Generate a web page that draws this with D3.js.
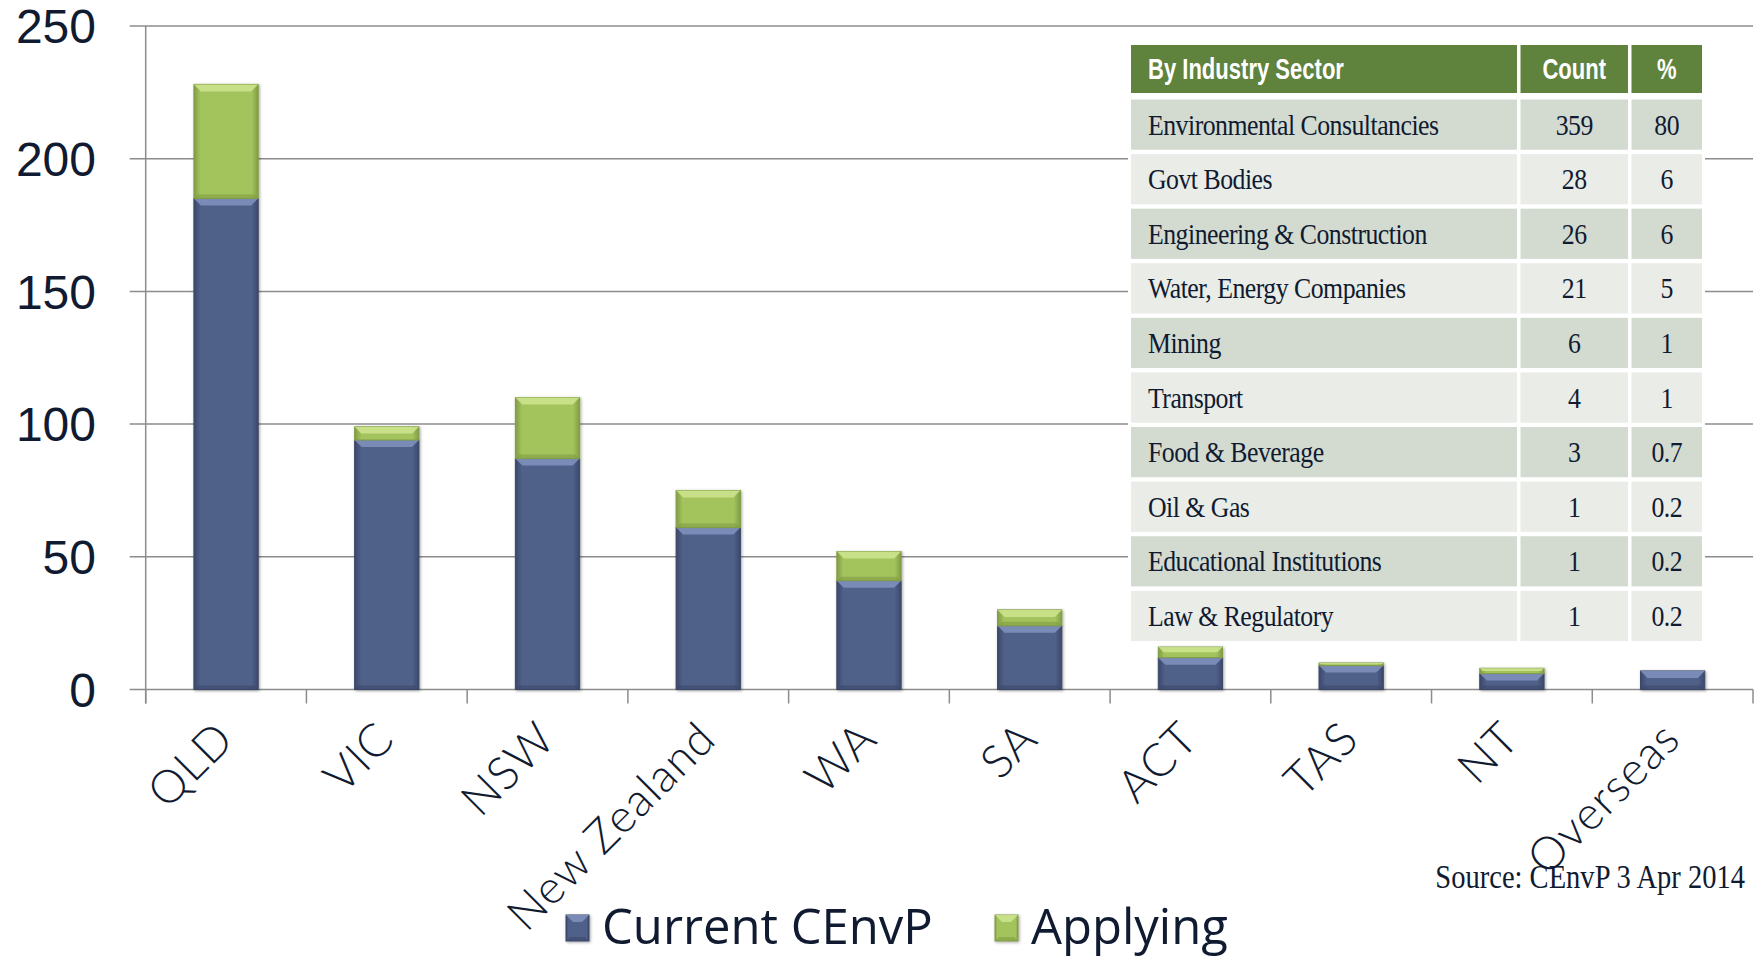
<!DOCTYPE html>
<html>
<head>
<meta charset="utf-8">
<script src="https://cdn.jsdelivr.net/npm/d3@7"></script>
<style>
  body { margin: 0; background: #fff; }
  svg { display: block; }
</style>
</head>
<body>
<svg width="1757" height="957"></svg>
<script>
// chart data
const regions = ["QLD", "VIC", "NSW", "New Zealand", "WA", "SA", "ACT", "TAS", "NT", "Overseas"];
const current = [185, 94, 87, 61, 41, 24, 12, 9, 6, 7];
const applying = [43, 5, 23, 14, 11, 6, 4, 1, 2, 0];
const yTicks = [0, 50, 100, 150, 200, 250];
const seriesNames = ["Current CEnvP", "Applying"];

// table data
const tableHead = ["By Industry Sector", "Count", "%"];
const sectors = ["Environmental Consultancies", "Govt Bodies", "Engineering & Construction",
  "Water, Energy Companies", "Mining", "Transport", "Food & Beverage", "Oil & Gas",
  "Educational Institutions", "Law & Regulatory"];
const counts = [359, 28, 26, 21, 6, 4, 3, 1, 1, 1];
const percents = ["80", "6", "6", "5", "1", "1", "0.7", "0.2", "0.2", "0.2"];

const source = "Source: CEnvP 3 Apr 2014";

const svg = d3.select("svg");
const plotL = 145.7, plotR = 1753, plotT = 26, plotB = 689.5;
const ink = "#101a30";
const gridCol = "#8c8c8c";

const x = d3.scaleBand().domain(regions).range([plotL, plotR]).paddingInner(0.6).paddingOuter(0.3);
const y = d3.scaleLinear().domain([0, 250]).range([plotB, plotT]);

const series = [
  { name: seriesNames[0], base: "#4f6089", dark: "#3b4868", light: "#8193c0", values: current },
  { name: seriesNames[1], base: "#a3c35d", dark: "#819c44", light: "#cfe58f", values: applying }
];

const defs = svg.append("defs");
series.forEach((s, i) => {
  const g = defs.append("linearGradient").attr("id", "grad" + i)
    .attr("x1", 0).attr("x2", 1).attr("y1", 0).attr("y2", 0);
  g.append("stop").attr("offset", "0%").attr("stop-color", s.dark);
  g.append("stop").attr("offset", "10%").attr("stop-color", s.base);
  g.append("stop").attr("offset", "90%").attr("stop-color", s.base);
  g.append("stop").attr("offset", "100%").attr("stop-color", s.dark);
});
defs.append("filter").attr("id", "shadow").attr("x", "-20%").attr("y", "-20%").attr("width", "140%").attr("height", "140%")
  .append("feDropShadow").attr("dx", 1).attr("dy", 1).attr("stdDeviation", 1.5)
  .attr("flood-color", "#000").attr("flood-opacity", 0.35);

// gridlines
svg.append("g").selectAll("line").data(yTicks).join("line")
  .attr("x1", plotL - 16).attr("x2", plotR)
  .attr("y1", d => y(d)).attr("y2", d => y(d))
  .attr("stroke", gridCol).attr("stroke-width", 1.5);

// y axis line
svg.append("line").attr("x1", plotL).attr("x2", plotL).attr("y1", plotT).attr("y2", plotB + 14)
  .attr("stroke", gridCol).attr("stroke-width", 1.5);

// x ticks at band boundaries
svg.append("g").selectAll("line").data(d3.range(regions.length + 1)).join("line")
  .attr("x1", i => plotL + i * x.step()).attr("x2", i => plotL + i * x.step())
  .attr("y1", plotB).attr("y2", plotB + 14)
  .attr("stroke", gridCol).attr("stroke-width", 1.5);

// y labels
svg.append("g").selectAll("text").data(yTicks).join("text")
  .attr("x", 96).attr("y", d => y(d)).attr("dy", "0.36em")
  .attr("text-anchor", "end")
  .style("font-family", "'Liberation Sans', Arial, sans-serif").style("font-size", "48px")
  .attr("fill", ink).text(d => d);

// bars
function bevelBar(g, x0, y0, w, h, s, idx) {
  if (h <= 0) return;
  g.append("rect").attr("x", x0).attr("y", y0).attr("width", w).attr("height", h)
    .attr("fill", `url(#grad${idx})`).attr("stroke", s.dark).attr("stroke-width", 1);
  const d = Math.min(7, h / 2);
  g.append("polygon")
    .attr("points", [[x0, y0], [x0 + w, y0], [x0 + w - d, y0 + d], [x0 + d, y0 + d]].map(p => p.join(",")).join(" "))
    .attr("fill", s.light).attr("opacity", 0.85);
  if (h > 14) {
    g.append("polygon")
      .attr("points", [[x0, y0 + h], [x0 + w, y0 + h], [x0 + w - 4, y0 + h - 4], [x0 + 4, y0 + h - 4]].map(p => p.join(",")).join(" "))
      .attr("fill", s.dark).attr("opacity", 0.6);
  }
}

const barG = svg.append("g");
regions.forEach((r, i) => {
  const bg = barG.append("g").attr("filter", "url(#shadow)");
  let acc = 0;
  series.forEach((s, k) => {
    const v = s.values[i];
    const y1 = y(acc + v), y0 = y(acc);
    bevelBar(bg, x(r), y1, x.bandwidth(), y0 - y1, s, k);
    acc += v;
  });
});

// x labels
svg.append("g").selectAll("text").data(regions).join("text")
  .attr("transform", d => `translate(${x(d) + x.bandwidth() / 2 + 10},${plotB + 52}) rotate(-45)`)
  .attr("text-anchor", "end")
  .style("font-family", "Lato, 'Open Sans', sans-serif").style("font-size", "46px")
  .style("font-weight", "300").style("letter-spacing", "1px")
  .attr("fill", ink).text(d => d);

// table
const colL = [1131, 1520.5, 1631.5];
const colR = [1517, 1628, 1702];
const headTop = 45, headBot = 93;
const rowY = d3.scaleBand().domain(d3.range(sectors.length)).range([99.5, 641]).paddingInner(0.08);

const tg = svg.append("g");
tg.append("rect").attr("x", colL[0] - 3).attr("y", headTop - 3)
  .attr("width", colR[2] - colL[0] + 6).attr("height", 641 - headTop + 6).attr("fill", "#fff");

tableHead.forEach((h, c) => {
  tg.append("rect").attr("x", colL[c]).attr("y", headTop)
    .attr("width", colR[c] - colL[c]).attr("height", headBot - headTop).attr("fill", "#5f823d");
  const cx = c === 0 ? colL[0] + 17 : (colL[c] + colR[c]) / 2;
  tg.append("text")
    .attr("transform", `translate(${cx},${(headTop + headBot) / 2 + 10}) scale(0.76,1)`)
    .attr("text-anchor", c === 0 ? "start" : "middle")
    .style("font-family", "'Liberation Sans', Arial, sans-serif").style("font-size", "29px")
    .style("font-weight", "bold").attr("fill", "#fff").text(h);
});

sectors.forEach((s, r) => {
  const fill = r % 2 === 0 ? "#d3dbd1" : "#e9ece7";
  const cells = [s, counts[r], percents[r]];
  cells.forEach((v, c) => {
    tg.append("rect").attr("x", colL[c]).attr("y", rowY(r))
      .attr("width", colR[c] - colL[c]).attr("height", rowY.bandwidth()).attr("fill", fill);
    const cx = c === 0 ? colL[0] + 17 : (colL[c] + colR[c]) / 2;
    tg.append("text")
      .attr("transform", `translate(${cx},${rowY(r) + rowY.bandwidth() / 2 + 10}) scale(0.86,1)`)
      .attr("text-anchor", c === 0 ? "start" : "middle")
      .style("font-family", "'Liberation Serif', 'Times New Roman', serif").style("font-size", "30px")
      .style("letter-spacing", "-0.6px")
      .attr("fill", ink).text(v);
  });
});

// source
svg.append("text").attr("transform", "translate(1745,888) scale(0.84,1)")
  .attr("text-anchor", "end")
  .style("font-family", "'Liberation Serif', 'Times New Roman', serif").style("font-size", "34px")
  .attr("fill", ink).text(source);

// legend
const legX = [566, 995];
const lg = svg.append("g");
series.forEach((s, k) => {
  const g = lg.append("g").attr("filter", "url(#shadow)");
  bevelBar(g, legX[k], 915, 23, 26, s, k);
  lg.append("text").attr("x", legX[k] + 36).attr("y", 944)
    .style("font-family", "'Open Sans', sans-serif").style("font-size", "49px")
    .attr("fill", ink).text(s.name);
});
</script>
</body>
</html>
